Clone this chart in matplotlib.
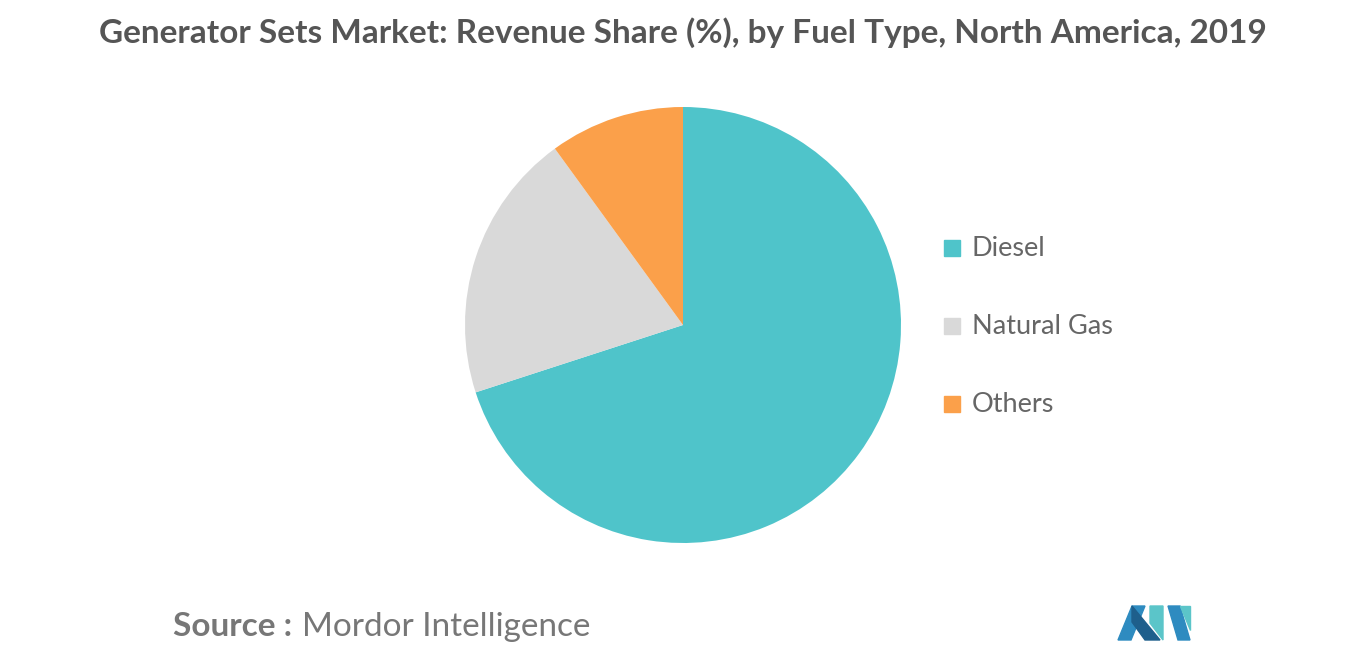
import matplotlib
matplotlib.use("Agg")
import matplotlib.pyplot as plt
from matplotlib.patches import Polygon, Rectangle

categories = ["Diesel", "Natural Gas", "Others"]
shares = [70, 20, 10]
colors = ["#4FC4CA", "#D9D9D9", "#FBA04A"]

W, H = 1366, 655
fig = plt.figure(figsize=(W/100, H/100), dpi=100)
plt.rcParams["font.family"] = "Lato"

cx, cy, r = 683, 325, 218
ax = fig.add_axes([(cx-r)/W, (H-cy-r)/H, 2*r/W, 2*r/H])
ax.pie(shares, colors=colors, startangle=90, counterclock=False, radius=1)
ax.set_xlim(-1, 1)
ax.set_ylim(-1, 1)
ax.set_aspect("equal")

fig.text(0.5, 1-33/H, "Generator Sets Market: Revenue Share (%), by Fuel Type, North America, 2019",
         ha="center", va="center", fontsize=24, fontweight="bold", color="#555555")

for i, (c, col) in enumerate(zip(categories, colors)):
    y = 248 + i*78
    fig.patches.append(Rectangle(((944)/W, 1-(y+8)/H), 16/W, 16/H, color=col, transform=fig.transFigure))
    fig.text(972/W, 1-y/H, c, va="center", ha="left", fontsize=19.5, color="#666666")

fig.text(173/W, 1-627/H, "Source :", va="center", ha="left", fontsize=24, fontweight="bold", color="#777777")
fig.text(302/W, 1-627/H, "Mordor Intelligence", va="center", ha="left", fontsize=24, color="#777777")

def poly(pts, col):
    fig.patches.append(Polygon([(x/W, 1-y/H) for x, y in pts], closed=True, color=col, transform=fig.transFigure))
poly([(1118, 640), (1132, 606), (1145, 606), (1131, 640)], "#2E8BC0")
poly([(1132, 606), (1160, 640), (1145, 640), (1132, 622)], "#1E5F8C")
poly([(1150, 606), (1163, 606), (1163, 640), (1150, 623)], "#5BC5C9")
poly([(1168, 606), (1180, 606), (1190, 640), (1178, 640)], "#2E8BC0")
poly([(1180, 606), (1190, 606), (1190, 630)], "#5BC5C9")

fig.savefig("out.png", dpi=100)
